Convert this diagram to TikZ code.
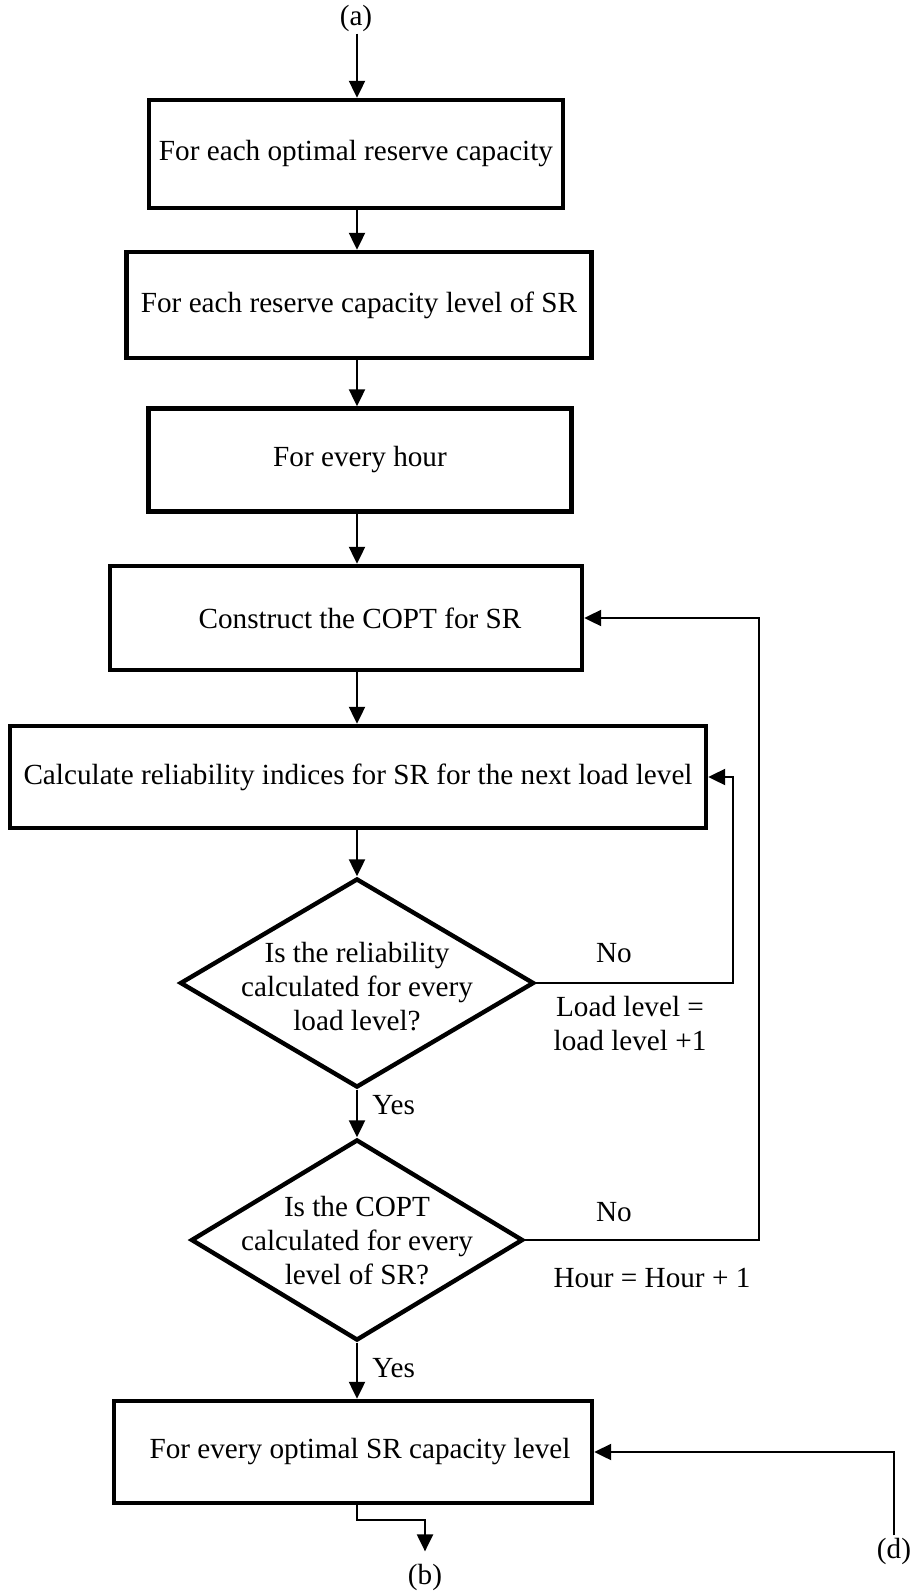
\documentclass[tikz,border=0pt]{standalone}
\usepackage{fontspec}
\setmainfont{Liberation Serif}
\usetikzlibrary{arrows.meta,shapes.geometric}
\begin{document}
\begin{tikzpicture}[x=0.5pt,y=-0.5pt,
  font=\fontsize{14.6pt}{17pt}\selectfont,
  stepbox/.style={draw, line width=2.2pt, inner sep=0pt, align=center},
  decision/.style={diamond, draw, line width=2.2pt, inner sep=0pt},
  conn/.style={line width=1.1pt, -{Triangle[length=8.5pt,width=8pt]}},
  lbl/.style={inner sep=1pt, align=center}]
\useasboundingbox (0,0) rectangle (920,1593);

% main column axis
\coordinate (ax) at (357,0);

% process boxes
\node[lbl] (a) at (356,18) {(a)};
\node[stepbox, minimum width=207pt, minimum height=54pt] (b1) at (356,154) {For each optimal reserve capacity};
\node[stepbox, minimum width=232.5pt, minimum height=53pt] (b2) at (359,305) {For each reserve capacity level of SR};
\node[stepbox, minimum width=211.5pt, minimum height=51.5pt] (b3) at (360,460) {For every hour};
\node[stepbox, minimum width=236pt, minimum height=52pt] (b4) at (346,618) {\hspace*{14pt}Construct the COPT for SR};
\node[stepbox, minimum width=348pt, minimum height=51pt] (b5) at (358,777) {Calculate reliability indices for SR for the next load level};

% decisions
\node[decision, minimum width=177pt, minimum height=104.5pt] (d1) at (357,983) {};
\node[lbl] (q1) at (357,987) {Is the reliability\\calculated for every\\load level?};
\node[decision, minimum width=166pt, minimum height=100.5pt] (d2) at (357,1240) {};
\node[lbl] (q2) at (357,1241) {Is the COPT\\calculated for every\\level of SR?};

\node[stepbox, minimum width=239pt, minimum height=51pt] (b6) at (353,1452) {\hspace*{7pt}For every optimal SR capacity level};

% connector labels
\node[lbl] (no1) at (614,953) {No};
\node[lbl] (inc1) at (630,1024) {Load level =\\load level +1};
\node[lbl] (no2) at (614,1212) {No};
\node[lbl] (inc2) at (652,1278) {Hour = Hour + 1};
\node[lbl, anchor=west] (yes1) at (370,1105) {Yes};
\node[lbl, anchor=west] (yes2) at (370,1368) {Yes};
\node[lbl] (d) at (894,1551) {(d)};
\node[lbl] (b) at (425,1577) {(b)};

% main flow
\draw[conn] (a.south -| ax) -- (b1.north -| ax);
\draw[conn] (b1.south -| ax) -- (b2.north -| ax);
\draw[conn] (b2.south -| ax) -- (b3.north -| ax);
\draw[conn] (b3.south -| ax) -- (b4.north -| ax);
\draw[conn] (b4.south -| ax) -- (b5.north -| ax);
\draw[conn] (b5.south -| ax) -- (d1.north);
\draw[conn] (d1.south) -- (d2.north);
\draw[conn] (d2.south) -- (b6.north -| ax);

% loops back
\draw[conn] (d1.east) -- ++(197,0) |- (b5.east);
\draw[conn] (d2.east) -- ++(234,0) |- (b4.east);
\draw[conn] (d.north) |- (b6.east);

% exit to (b)
\coordinate (bend) at (425,1520);
\draw[conn, shorten >=5pt] (b6.south -| ax) |- (bend) -- (b.north);
\end{tikzpicture}
\end{document}
